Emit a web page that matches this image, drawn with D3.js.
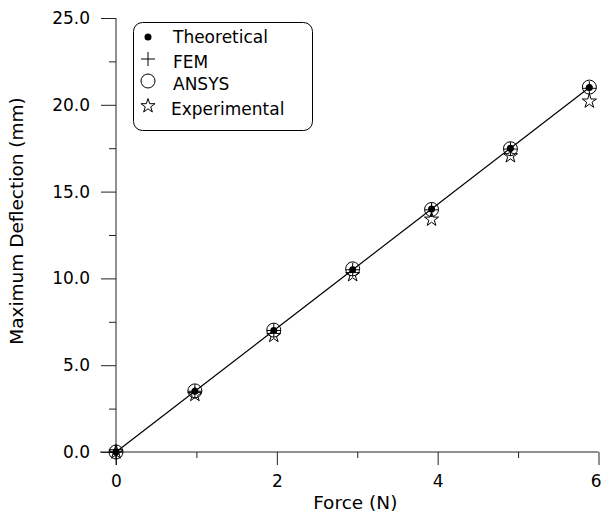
<!DOCTYPE html>
<html><head><meta charset="utf-8">
<script src="https://cdn.jsdelivr.net/npm/d3@7"></script>
<style>
html,body{margin:0;padding:0;background:#fff;}
svg{display:block;font-family:"DejaVu Sans",sans-serif;}
</style></head>
<body>
<svg id="chart" width="602" height="518"></svg>
<script>
const force = [0, 0.981, 1.962, 2.943, 3.924, 4.905, 5.886];
const theoretical = [0, 3.50, 7.00, 10.50, 14.00, 17.50, 21.00];
const fem = [0, 3.50, 7.00, 10.50, 13.95, 17.45, 20.95];
const ansys = [0, 3.52, 7.02, 10.55, 13.97, 17.47, 21.02];
const experimental = [0, 3.30, 6.70, 10.20, 13.40, 17.05, 20.20];
const xTicks = [0, 2, 4, 6];
const xMinorTicks = [1, 3, 5];
const yTicks = [0, 5, 10, 15, 20, 25];
const yMinorTicks = [2.5, 7.5, 12.5, 17.5, 22.5];
const legendLabels = ["Theoretical", "FEM", "ANSYS", "Experimental"];

const svg = d3.select("#chart");
const m = {left: 116, right: 3.5, top: 18, bottom: 66};
const W = 602, H = 518;
const x = d3.scaleLinear().domain([0, 6]).range([m.left, W - m.right]);
const y = d3.scaleLinear().domain([0, 25]).range([H - m.bottom, m.top]);

// axes
const xAxis = svg.append("g").attr("transform", `translate(0,${y(0)})`)
  .call(d3.axisBottom(x).tickValues(xTicks).tickFormat(d3.format("d")).tickSize(13).tickPadding(10));
const xMinor = svg.append("g").attr("transform", `translate(0,${y(0)})`)
  .call(d3.axisBottom(x).tickValues(xMinorTicks).tickFormat("").tickSize(6));
xMinor.select(".domain").remove();
xAxis.select(".domain").attr("d", `M${m.left - 16},0H${x(6)}`);
// keep last label inside the window
xAxis.selectAll(".tick text").filter(d => d === 6).attr("text-anchor", "end").attr("dx", "0.15em");

const yAxis = svg.append("g").attr("transform", `translate(${x(0)},0)`)
  .call(d3.axisLeft(y).tickValues(yTicks).tickFormat(d3.format(".1f")).tickSize(15).tickPadding(11));
const yMinor = svg.append("g").attr("transform", `translate(${x(0)},0)`)
  .call(d3.axisLeft(y).tickValues(yMinorTicks).tickFormat("").tickSize(7));
yMinor.select(".domain").remove();
yAxis.select(".domain").attr("d", `M0,${y(25)}V${y(0) + 13}`);

svg.selectAll(".tick line, .domain").attr("stroke", "#222").attr("stroke-width", 1);
svg.selectAll(".tick text").attr("font-family", "DejaVu Sans, sans-serif")
  .attr("font-size", 17).attr("fill", "#000");

// axis titles
svg.append("text").attr("x", (x(0) + x(6)) / 2 - 2).attr("y", 509)
  .attr("text-anchor", "middle").attr("font-size", 18.5).text("Force (N)");
svg.append("text").attr("transform", `translate(23,${(y(0) + y(25)) / 2 - 14}) rotate(-90)`)
  .attr("text-anchor", "middle").attr("font-size", 18.5).text("Maximum Deflection (mm)");

// line through theoretical
const pts = force.map((f, i) => ({f, t: theoretical[i], fe: fem[i], a: ansys[i], e: experimental[i]}));
svg.append("path").datum(pts)
  .attr("d", d3.line().x(d => x(d.f)).y(d => y(d.t)))
  .attr("fill", "none").attr("stroke", "#000").attr("stroke-width", 1.2);

const starPath = d3.symbol().type(d3.symbolStar).size(62)();
const plusPath = "M-7,0H7M0,-7V7";

function drawDot(g, cx, cy) { g.append("circle").attr("cx", cx).attr("cy", cy).attr("r", 3.5).attr("fill", "#000"); }
function drawPlus(g, cx, cy) { g.append("path").attr("d", plusPath).attr("transform", `translate(${cx},${cy})`).attr("stroke", "#000").attr("stroke-width", 1).attr("fill", "none"); }
function drawCircle(g, cx, cy) { g.append("circle").attr("cx", cx).attr("cy", cy).attr("r", 7).attr("fill", "none").attr("stroke", "#000").attr("stroke-width", 1); }
function drawStar(g, cx, cy) { g.append("path").attr("d", starPath).attr("transform", `translate(${cx},${cy})`).attr("fill", "none").attr("stroke", "#000").attr("stroke-width", 1); }

const mk = svg.append("g");
pts.forEach(d => drawStar(mk, x(d.f), y(d.e)));
pts.forEach(d => drawCircle(mk, x(d.f), y(d.a)));
pts.forEach(d => drawPlus(mk, x(d.f), y(d.fe)));
pts.forEach(d => drawDot(mk, x(d.f), y(d.t)));

// legend
const lg = svg.append("g");
lg.append("rect").attr("x", 133.5).attr("y", 22.5).attr("width", 179).attr("height", 108)
  .attr("rx", 9).attr("fill", "#fff").attr("stroke", "#000").attr("stroke-width", 1);
const legendY = [37, 59, 81, 106];
const drawers = [drawDot, drawPlus, drawCircle, drawStar];
legendLabels.forEach((lab, i) => {
  drawers[i](lg, 148, legendY[i]);
  lg.append("text").attr("x", i === 3 ? 171 : 173).attr("y", legendY[i] + (i === 0 ? 0 : 3)).attr("dy", "0.35em")
    .attr("font-size", 17).text(lab);
});
</script>
</body></html>
